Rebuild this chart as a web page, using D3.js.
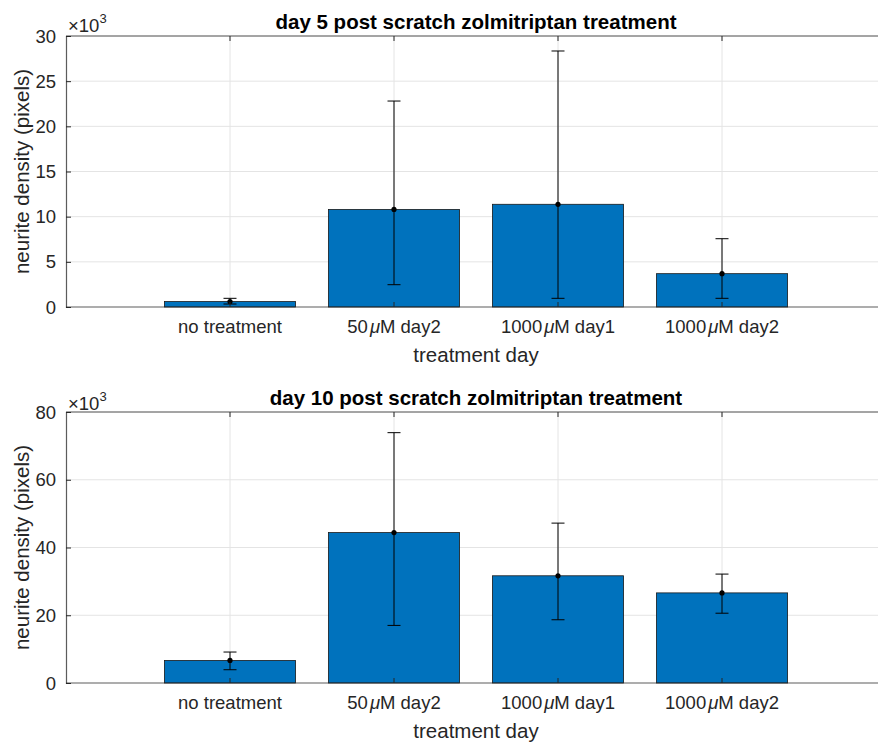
<!DOCTYPE html>
<html>
<head>
<meta charset="utf-8">
<script src="https://cdn.jsdelivr.net/npm/d3@7"></script>
<style>
  body { margin: 0; background: #fff; }
  text { font-family: "Liberation Sans", Arial, Helvetica, sans-serif; fill: #262626; }
</style>
</head>
<body>
<div id="chart"></div>
<script>
// categories (mu written separately so it can be italic like TeX \mu)
var categories = [
    { pre: "no treatment", mu: "", post: "" },
    { pre: "50", mu: "\u03bc", post: "M day2" },
    { pre: "1000", mu: "\u03bc", post: "M day1" },
    { pre: "1000", mu: "\u03bc", post: "M day2" }
];

// values in thousands of pixels
var day5Mean  = [0.6, 10.8, 11.37, 3.69];
var day5Low   = [0.33, 2.47, 0.96, 0.96];
var day5High  = [0.96, 22.8, 28.34, 7.56];
var day5Ticks = [0, 5, 10, 15, 20, 25, 30];

var day10Mean  = [6.66, 44.4, 31.65, 26.6];
var day10Low   = [3.92, 17.0, 18.67, 20.6];
var day10High  = [9.14, 73.9, 47.2, 32.15];
var day10Ticks = [0, 20, 40, 60, 80];

var w = 878, h = 742;

var svg = d3.select("#chart")
    .append("svg")
    .attr("width", w)
    .attr("height", h);

function panel(top, bottom, title, mean, low, high, ticks, expOff) {
    var left = 66, right = 886;     // axes runs off the right edge, as in the picture
    var x = d3.scaleLinear().domain([0, 5]).range([left, right]),
        y = d3.scaleLinear().domain([0, ticks[ticks.length - 1]]).range([bottom, top]);

    var g = svg.append("g");

    // grid
    g.selectAll(".hgrid").data(ticks.slice(1)).enter().append("line")
        .attr("x1", left).attr("x2", right)
        .attr("y1", function (d) { return y(d); })
        .attr("y2", function (d) { return y(d); })
        .attr("stroke", "#e4e4e4").attr("stroke-width", 1);
    g.selectAll(".vgrid").data(categories).enter().append("line")
        .attr("x1", function (d, i) { return x(i + 1); })
        .attr("x2", function (d, i) { return x(i + 1); })
        .attr("y1", top).attr("y2", bottom)
        .attr("stroke", "#e4e4e4").attr("stroke-width", 1);

    // bars
    var bw = x(0.8) - x(0);
    g.selectAll(".bar").data(mean).enter().append("rect")
        .attr("x", function (d, i) { return x(i + 1) - bw / 2; })
        .attr("y", function (d) { return y(d); })
        .attr("width", bw)
        .attr("height", function (d) { return y(0) - y(d); })
        .attr("fill", "#0072BD")
        .attr("stroke", "#1a1a1a")
        .attr("stroke-width", 0.8);

    // error bars
    var cap = 6.5;
    var eb = g.selectAll(".err").data(mean).enter().append("g");
    eb.append("line")
        .attr("x1", function (d, i) { return x(i + 1); })
        .attr("x2", function (d, i) { return x(i + 1); })
        .attr("y1", function (d, i) { return y(low[i]); })
        .attr("y2", function (d, i) { return y(high[i]); })
        .attr("stroke", "#000").attr("stroke-width", 1);
    eb.append("line")
        .attr("x1", function (d, i) { return x(i + 1) - cap; })
        .attr("x2", function (d, i) { return x(i + 1) + cap; })
        .attr("y1", function (d, i) { return y(high[i]); })
        .attr("y2", function (d, i) { return y(high[i]); })
        .attr("stroke", "#000").attr("stroke-width", 1);
    eb.append("line")
        .attr("x1", function (d, i) { return x(i + 1) - cap; })
        .attr("x2", function (d, i) { return x(i + 1) + cap; })
        .attr("y1", function (d, i) { return y(low[i]); })
        .attr("y2", function (d, i) { return y(low[i]); })
        .attr("stroke", "#000").attr("stroke-width", 1);
    eb.append("circle")
        .attr("cx", function (d, i) { return x(i + 1); })
        .attr("cy", function (d) { return y(d); })
        .attr("r", 2.6)
        .attr("fill", "#000");

    // axes box
    g.append("line").attr("x1", left).attr("x2", right).attr("y1", bottom).attr("y2", bottom)
        .attr("stroke", "#262626").attr("stroke-width", 1.2).attr("stroke-opacity", 0.75);
    g.append("line").attr("x1", left).attr("x2", right).attr("y1", top).attr("y2", top)
        .attr("stroke", "#262626").attr("stroke-width", 1.2).attr("stroke-opacity", 0.75);

    var yAxis = g.append("g")
        .attr("transform", "translate(" + left + ",0)")
        .call(d3.axisRight(y).tickValues(ticks).tickSize(5).tickFormat(""));
    yAxis.select(".domain").attr("stroke", "#262626").attr("stroke-opacity", 0.75).attr("stroke-width", 1.2);
    yAxis.selectAll(".tick line").attr("stroke", "#262626");

    g.selectAll(".ylab").data(ticks).enter().append("text")
        .attr("x", left - 10)
        .attr("y", function (d) { return y(d); })
        .attr("dy", "0.36em")
        .attr("text-anchor", "end")
        .style("font-size", "18.5px")
        .text(function (d) { return d; });

    // x ticks, bottom and top, inward
    [1, 2, 3, 4].forEach(function (t) {
        g.append("line").attr("x1", x(t)).attr("x2", x(t)).attr("y1", bottom).attr("y2", bottom - 5)
            .attr("stroke", "#262626");
        g.append("line").attr("x1", x(t)).attr("x2", x(t)).attr("y1", top).attr("y2", top + 5)
            .attr("stroke", "#262626");
    });

    var xl = g.selectAll(".xlab").data(categories).enter().append("text")
        .attr("x", function (d, i) { return x(i + 1); })
        .attr("y", bottom + 26)
        .attr("text-anchor", "middle")
        .style("font-size", "18.5px");
    xl.append("tspan").text(function (d) { return d.pre; });
    xl.append("tspan").style("font-style", "italic").attr("dx", function (d) { return d.mu ? 2 : 0; })
        .text(function (d) { return d.mu; });
    xl.append("tspan").text(function (d) { return d.post; });

    // exponent
    var ex = g.append("text")
        .attr("x", left + 2)
        .attr("y", top - expOff)
        .style("font-size", "18.5px");
    ex.append("tspan").text("\u00d710");
    ex.append("tspan").attr("dy", -9).style("font-size", "13px").text("3");

    // labels
    g.append("text")
        .attr("x", (left + right) / 2)
        .attr("y", bottom + 55)
        .attr("text-anchor", "middle")
        .style("font-size", "20.5px")
        .text("treatment day");

    g.append("text")
        .attr("transform", "translate(29," + ((top + bottom) / 2) + ") rotate(-90)")
        .attr("text-anchor", "middle")
        .style("font-size", "20.5px")
        .text("neurite density (pixels)");

    g.append("text")
        .attr("x", (left + right) / 2)
        .attr("y", top - 7)
        .attr("text-anchor", "middle")
        .style("font-size", "20.5px")
        .style("font-weight", "bold")
        .style("fill", "#000")
        .text(title);
}

panel(36, 307, "day 5 post scratch zolmitriptan treatment", day5Mean, day5Low, day5High, day5Ticks, 4);
panel(412, 683, "day 10 post scratch zolmitriptan treatment", day10Mean, day10Low, day10High, day10Ticks, 2);
</script>
</body>
</html>
